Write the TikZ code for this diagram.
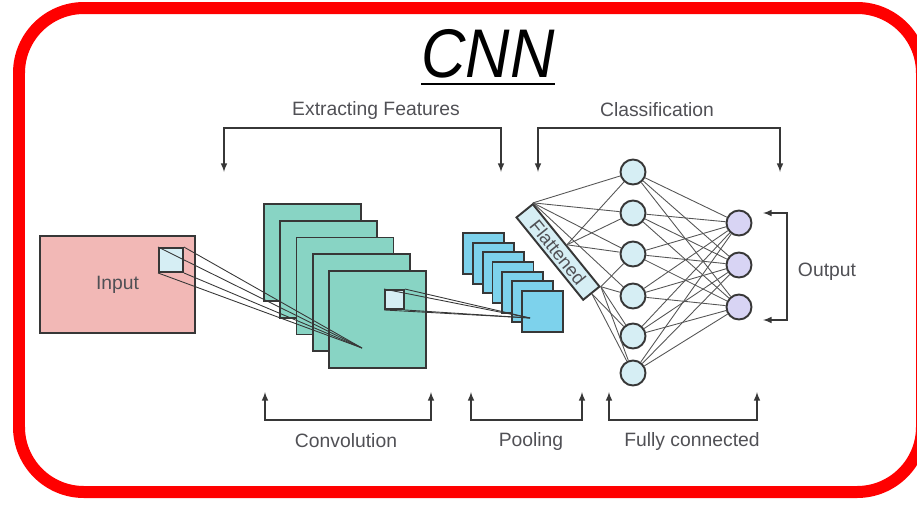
\documentclass[tikz,border=0pt]{standalone}
\usepackage{graphicx}
\usepackage{fontspec}
\setmainfont{Liberation Sans}

\definecolor{inputpink}{RGB}{242,184,182}
\definecolor{convteal}{RGB}{136,212,196}
\definecolor{poolblue}{RGB}{125,210,236}
\definecolor{paleblue}{RGB}{214,238,244}
\definecolor{lavender}{RGB}{216,212,244}
\definecolor{edgegray}{RGB}{55,55,55}
\definecolor{wiregray}{RGB}{85,85,85}
\definecolor{labelgray}{RGB}{80,80,85}

\tikzset{
    layer/.style={draw=edgegray, line width=1.1pt, inner sep=0pt},
    convmap/.style={layer, fill=convteal, minimum size=1.94cm},
    poolmap/.style={layer, fill=poolblue, minimum size=0.82cm},
    patch/.style={layer, fill=paleblue},
    neuron/.style={circle, draw=edgegray, line width=1.1pt, minimum size=0.5cm, inner sep=0pt},
    hidden/.style={neuron, fill=paleblue},
    outneuron/.style={neuron, fill=lavender},
    bracket/.style={latex-latex, draw=edgegray, line width=0.7pt},
    caption/.style={text=labelgray, font=\fontsize{11}{13}\selectfont},
    wire/.style={draw=wiregray, line width=0.5pt}
}

\begin{document}
\begin{tikzpicture}[x=0.02cm, y=0.02cm]
    \useasboundingbox (0,0) rectangle (917,-508);

    % frame and title
    \draw[red, line width=0.24cm, rounded corners=1.3cm] (19,-8) rectangle (922,-492);
    \node (title) [anchor=base, inner sep=0pt, font=\fontsize{35}{40}\selectfont\itshape] at (488,-77) {\scalebox{1}[1.12]{CNN}};
    \draw[line width=1.7pt] ([yshift=-0.14cm]title.base west) -- ([yshift=-0.14cm]title.base east);

    % input
    \node (input) [layer, fill=inputpink, minimum width=3.1cm, minimum height=1.94cm] at (117.5,-284.5) {};
    \node (inlabel) [caption] at (input.center) {Input};
    \node (inpatch) [patch, minimum size=0.48cm] at (171,-260) {};

    % convolution maps
    \node (conv1) [convmap] at (312.5,-252.5) {};
    \node (conv2) [convmap] at (328.75,-269.25) {};
    \node (conv3) [convmap] at (345,-286) {};
    \node (conv4) [convmap] at (361.25,-302.75) {};
    \node (conv5) [convmap] at (377.5,-319.5) {};
    \node (convpatch) [patch, minimum size=0.38cm] at (394.5,-299.5) {};
    \coordinate (convfocus) at (362,-348);

    \foreach \c in {north west, north east, south east, south west}
        \draw[wire, draw=edgegray] (inpatch.\c) -- (convfocus);

    % pooling maps
    \node (pool1) [poolmap] at (483.5,-253.5) {};
    \node (pool2) [poolmap] at (493.3,-263.2) {};
    \node (pool3) [poolmap] at (503.2,-272.8) {};
    \node (pool4) [poolmap] at (513,-282.5) {};
    \node (pool5) [poolmap] at (522.8,-292.2) {};
    \node (pool6) [poolmap] at (532.7,-301.8) {};
    \node (pool7) [poolmap] at (542.5,-311.5) {};
    \coordinate (poolfocus) at (530,-318);

    \foreach \c in {north west, north east, south east, south west}
        \draw[wire, draw=edgegray] (convpatch.\c) -- (poolfocus);

    % flattened vector
    \node (flat) [layer, fill=paleblue, rotate=-51, minimum width=2.12cm, minimum height=0.42cm,
        text=labelgray, font=\fontsize{10.5}{12}\selectfont] at (558,-252) {Flattened};

    % fully connected layers
    \node (h1) [hidden] at (633,-172) {};
    \node (h2) [hidden] at (633,-213) {};
    \node (h3) [hidden] at (633,-254) {};
    \node (h4) [hidden] at (633,-296) {};
    \node (h5) [hidden] at (633,-336) {};
    \node (h6) [hidden] at (633,-373) {};

    \node (o1) [outneuron] at (739,-223) {};
    \node (o2) [outneuron] at (739,-265) {};
    \node (o3) [outneuron] at (739,-307) {};

    \foreach \h in {h1,h2,h3,h4}
        \draw[wire] (flat.north west) -- (\h);
    \foreach \h in {h1,h2,h3}
        \draw[wire] (flat.north) -- (\h);
    \foreach \h in {h3,h4,h5,h6}
        \draw[wire] (flat.north east) -- (\h);
    \foreach \h in {h5,h6}
        \draw[wire] (flat.east) -- (\h);
    \foreach \h in {h1,h2,h3,h4,h5,h6}
        \foreach \o in {o1,o2,o3}
            \draw[wire] (\h) -- (\o);

    % brackets and labels
    \coordinate (featL) at (224,-172);
    \coordinate (featR) at (501,-172);
    \draw[bracket] (featL) -- ++(0,44) -| (featR);
    \node (featlabel) [caption] at (376,-110) {Extracting Features};

    \coordinate (clsL) at (538,-172);
    \coordinate (clsR) at (780,-172);
    \draw[bracket] (clsL) -- ++(0,44) -| (clsR);
    \node (clslabel) [caption] at (657,-110) {Classification};

    \coordinate (convL) at (265,-392);
    \coordinate (convR) at (431,-392);
    \draw[bracket] (convL) -- ++(0,-28) -| (convR);
    \node (convlabel) [caption] at (346,-441) {Convolution};

    \coordinate (poolL) at (471,-392);
    \coordinate (poolR) at (582,-392);
    \draw[bracket] (poolL) -- ++(0,-28) -| (poolR);
    \node (poollabel) [caption] at (531,-441) {Pooling};

    \coordinate (fcL) at (609,-392);
    \coordinate (fcR) at (757,-392);
    \draw[bracket] (fcL) -- ++(0,-28) -| (fcR);
    \node (fclabel) [caption] at (692,-441) {Fully connected};

    \coordinate (outT) at (763,-213);
    \coordinate (outB) at (763,-320);
    \draw[bracket] (outT) -- ++(24,0) |- (outB);
    \node (outlabel) [caption] at (827,-272) {Output};
\end{tikzpicture}
\end{document}
